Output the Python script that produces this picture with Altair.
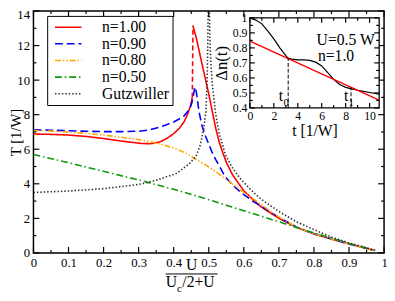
import altair as alt
import pandas as pd

W, H = 358, 247
FONT = "Liberation Serif"

# ---------------- main panel data ----------------
series_names = ["n=1.00", "n=0.90", "n=0.80", "n=0.50", "Gutzwiller"]
series_colors = ["#ff0000", "#0000ff", "#ffa500", "#0a9a0a", "#333333"]
series_dash = [[1, 0], [8, 4], [6, 2, 1.5, 2, 1.5, 2], [7, 3, 1.5, 3], [1.5, 2]]
series_width = [1.6, 1.6, 1.6, 1.6, 1.1]

red_left_v = [0, 0.05, 0.1, 0.15, 0.2, 0.24, 0.28, 0.31, 0.335, 0.36, 0.38, 0.4, 0.416, 0.43, 0.44, 0.448, 0.453]
red_left_T = [6.88, 6.86, 6.82, 6.74, 6.62, 6.5, 6.4, 6.33, 6.32, 6.42, 6.62, 6.9, 7.21, 7.6, 8.05, 8.5, 9.0]
red_jump_v = [0.453, 0.455]
red_jump_T = [9.0, 13.15]
red_right_v = [0.455, 0.465, 0.48, 0.49, 0.5, 0.51, 0.52, 0.53, 0.54, 0.55, 0.567, 0.584, 0.6, 0.625, 0.65,
               0.7, 0.75, 0.8, 0.85, 0.9, 0.95, 0.972]
red_right_T = [13.15, 12.4, 11.0, 10.1, 9.2, 8.2, 7.2, 6.4, 5.8, 5.25, 4.55, 4.05, 3.6, 3.1, 2.65,
               2.0, 1.48, 1.1, 0.8, 0.52, 0.26, 0.14]

blue_v = [0, 0.05, 0.1, 0.15, 0.2, 0.25, 0.3, 0.33, 0.36, 0.38, 0.4, 0.427, 0.445, 0.452, 0.457, 0.46,
          0.463, 0.466, 0.472, 0.48, 0.49, 0.5, 0.51, 0.52, 0.547, 0.567, 0.595, 0.625, 0.65, 0.7, 0.75,
          0.8, 0.85, 0.9, 0.95, 0.972]
blue_T = [7.12, 7.1, 7.07, 7.04, 7.02, 7.02, 7.04, 7.12, 7.28, 7.42, 7.58, 7.87, 8.3, 8.7, 9.2, 9.6,
          9.5, 9.1, 8.2, 7.4, 6.8, 6.3, 5.8, 5.4, 4.4, 3.95, 3.45, 3.0, 2.7, 2.05, 1.5,
          1.1, 0.8, 0.52, 0.26, 0.14]

orange_v = [0, 0.05, 0.1, 0.15, 0.2, 0.25, 0.3, 0.35, 0.4, 0.43, 0.455, 0.48, 0.5, 0.53, 0.556, 0.6,
            0.625, 0.65, 0.68, 0.7, 0.75, 0.8, 0.85, 0.9, 0.95, 0.972]
orange_T = [7.08, 7.06, 7.0, 6.92, 6.82, 6.7, 6.56, 6.36, 6.08, 5.82, 5.52, 5.22, 4.98, 4.56, 4.15, 3.5,
            3.15, 2.8, 2.35, 2.08, 1.5, 1.1, 0.8, 0.52, 0.26, 0.14]

green_v = [0, 0.1, 0.2, 0.3, 0.4, 0.464, 0.5, 0.556, 0.6, 0.65, 0.7, 0.743, 0.8, 0.835, 0.9, 0.95, 0.972]
green_T = [5.7, 5.22, 4.72, 4.22, 3.68, 3.3, 3.08, 2.72, 2.44, 2.12, 1.8, 1.52, 1.15, 0.95, 0.55, 0.27, 0.14]

gutz_left_v = [0, 0.1, 0.2, 0.3, 0.35, 0.408, 0.444, 0.464, 0.475, 0.485, 0.492, 0.495, 0.497, 0.4985]
gutz_left_T = [3.5, 3.58, 3.72, 3.96, 4.2, 4.6, 5.15, 5.6, 6.2, 7.1, 8.2, 9.8, 11.8, 14.5]
gutz_right_v = [0.5015, 0.503, 0.506, 0.51, 0.52, 0.53, 0.547, 0.565, 0.59, 0.62, 0.65, 0.7, 0.75, 0.8,
                0.85, 0.9, 0.95, 0.975]
gutz_right_T = [14.5, 12.5, 11.0, 9.8, 8.0, 6.9, 5.7, 5.0, 4.3, 3.65, 3.1, 2.4, 1.8, 1.35,
                0.92, 0.58, 0.3, 0.15]

main_x_major = [0, 0.1, 0.2, 0.3, 0.4, 0.5, 0.6, 0.7, 0.8, 0.9, 1.0]
main_x_minor = [0.05, 0.15, 0.25, 0.35, 0.45, 0.55, 0.65, 0.75, 0.85, 0.95]
main_y_major = [0, 2, 4, 6, 8, 10, 12, 14]
main_y_minor = [1, 3, 5, 7, 9, 11, 13]

title_num = ["U"]
title_den = ["U"]
title_sub = ["c"]
title_den_rest = ["/2+U"]

# ---------------- inset data ----------------
inset_t = [0, 0.5, 1, 1.5, 2, 2.5, 3, 3.2, 3.5, 4, 4.5, 5, 5.5, 6, 6.5, 7, 7.5, 8, 8.5, 9, 9.5, 10, 10.8]
inset_dn = [1.0, 0.985, 0.96, 0.912, 0.86, 0.8, 0.748, 0.732, 0.725, 0.72, 0.72, 0.717, 0.705, 0.68,
            0.635, 0.59, 0.556, 0.537, 0.527, 0.518, 0.51, 0.503, 0.492]
fit_t = [0, 10.8]
fit_dn = [0.845, 0.452]
mark_t = [3.2, 8.45]
mark_lo = [0.4, 0.4]
mark_hi = [0.732, 0.537]
inset_x_major = [0, 2, 4, 6, 8, 10]
inset_x_minor = [1, 3, 5, 7, 9]
inset_y_major = [0.4, 0.5, 0.6, 0.7, 0.8, 0.9, 1.0]
inset_y_minor = [0.45, 0.55, 0.65, 0.75, 0.85, 0.95]
inset_frame = {"x0": [0], "x1": [10.8], "y0": [0.4], "y1": [1.0]}
t_lbl_t = [2.78, 8.22]
t_lbl_y = [0.446, 0.446]
t_lbl_txt = ["t", "t"]
t_sub_t = [2.8, 8.24]
t_sub_y = [0.413, 0.413]
t_sub_txt = ["0", "1"]
info_t = [8.0, 7.2]
info_y = [0.817, 0.713]
info_txt = ["U=0.5 W", "n=1.0"]

# ---------------- build frames ----------------
rows = []
def add(name, seg, vs, Ts):
    for v, T in zip(vs, Ts):
        rows.append({"v": v, "T": T, "series": name, "seg": seg})

add("n=1.00", "r1", red_left_v, red_left_T)
add("n=1.00", "r2", red_right_v, red_right_T)
add("n=0.90", "b", blue_v, blue_T)
add("n=0.80", "o", orange_v, orange_T)
add("n=0.50", "g", green_v, green_T)
add("Gutzwiller", "z1", gutz_left_v, gutz_left_T)
add("Gutzwiller", "z2", gutz_right_v, gutz_right_T)
df_main = pd.DataFrame(rows)
df_jump = pd.DataFrame({"v": red_jump_v, "T": red_jump_T})

xs = alt.Scale(domain=[0, 1], nice=False, zero=False)
ys = alt.Scale(domain=[0, 14], nice=False, zero=False)
ixs = alt.Scale(domain=[0, 10.8], range=[221, 353], nice=False, zero=False)
iys = alt.Scale(domain=[0.4, 1.0], range=[99, 7], nice=False, zero=False)

legend = alt.Legend(
    orient="none", legendX=14, legendY=5, title=None,
    symbolType="M-1.8,0H1.8", symbolSize=225, symbolStrokeWidth=1.6, symbolOffset=10,
    labelFont=FONT, labelFontSize=16, labelOffset=26, padding=3, rowPadding=0,
    strokeColor="black", fillColor="white", labelLimit=300,
)

x_axis = alt.Axis(orient="bottom", values=main_x_major, format=".1~f", ticks=False, domain=False,
                  grid=False, labelFontSize=13, labelPadding=4, title=None, labelFlush=False,
                  labelOverlap=False)
y_axis = alt.Axis(orient="left", values=main_y_major, format="d", ticks=False, domain=False,
                  grid=False, labelFontSize=13, labelPadding=4, title="T [1/W]", titleFontSize=15,
                  titleAngle=270, titleX=-25, titleY=H / 2, titleBaseline="top", titleAlign="center",
                  labelOverlap=False,
                  labelOffset={"condition": {"test": "datum.value == 14", "value": 4}, "value": 0})

lines = alt.Chart(df_main).mark_line(clip=True).encode(
    x=alt.X("v:Q", scale=xs, axis=x_axis),
    y=alt.Y("T:Q", scale=ys, axis=y_axis),
    color=alt.Color("series:N", scale=alt.Scale(domain=series_names, range=series_colors), legend=legend),
    strokeDash=alt.StrokeDash("series:N", scale=alt.Scale(domain=series_names, range=series_dash), legend=legend),
    strokeWidth=alt.StrokeWidth("series:N", scale=alt.Scale(domain=series_names, range=series_width), legend=None),
    detail="seg:N",
)
jump = alt.Chart(df_jump).mark_line(color="#ff0000", strokeDash=[5, 3], strokeWidth=1.6, clip=True).encode(
    x=alt.X("v:Q", scale=xs, axis=None), y=alt.Y("T:Q", scale=ys, axis=None))


def xticks(vals, scale, y_from, y_to):
    return alt.Chart(pd.DataFrame({"p": vals})).mark_rule(color="black", strokeWidth=1.2).encode(
        x=alt.X("p:Q", scale=scale, axis=None), y=alt.value(y_from), y2=alt.value(y_to))


def yticks(vals, scale, x_from, x_to):
    return alt.Chart(pd.DataFrame({"p": vals})).mark_rule(color="black", strokeWidth=1.2).encode(
        y=alt.Y("p:Q", scale=scale, axis=None), x=alt.value(x_from), x2=alt.value(x_to))


one = pd.DataFrame({"a": [0]})
num = alt.Chart(pd.DataFrame({"s": title_num})).mark_text(font=FONT, fontSize=16, align="center", baseline="alphabetic").encode(
    text="s:N", x=alt.value(161.5), y=alt.value(264))
frac = alt.Chart(one).mark_rule(color="black", strokeWidth=1).encode(
    x=alt.value(135), x2=alt.value(188), y=alt.value(268.5))
den = alt.Chart(pd.DataFrame({"s": title_den})).mark_text(font=FONT, fontSize=16, align="left", baseline="alphabetic").encode(
    text="s:N", x=alt.value(135), y=alt.value(282))
sub = alt.Chart(pd.DataFrame({"s": title_sub})).mark_text(font=FONT, fontSize=11, align="left", baseline="alphabetic").encode(
    text="s:N", x=alt.value(146.5), y=alt.value(287))
den2 = alt.Chart(pd.DataFrame({"s": title_den_rest})).mark_text(font=FONT, fontSize=16, align="left", baseline="alphabetic").encode(
    text="s:N", x=alt.value(152), y=alt.value(282))

main = alt.layer(
    lines, jump,
    xticks(main_x_major, xs, H, H - 6), xticks(main_x_major, xs, 0, 6),
    xticks(main_x_minor, xs, H, H - 3), xticks(main_x_minor, xs, 0, 3),
    yticks(main_y_major, ys, 0, 6), yticks(main_y_major, ys, W, W - 6),
    yticks(main_y_minor, ys, 0, 3), yticks(main_y_minor, ys, W, W - 3),
    num, frac, den, sub, den2,
).resolve_axis(x="independent", y="independent")

# ---------------- inset ----------------
ix_axis = alt.Axis(orient="bottom", offset=99 - H, values=inset_x_major, format="d", ticks=False, domain=False,
                   grid=False, labelFontSize=12, labelPadding=3, labelFlush=False, labelOverlap=False,
                   title="t [1/W]", titleFontSize=16, titlePadding=1)
iy_axis = alt.Axis(orient="left", offset=-221, values=inset_y_major, format=".1~f", ticks=False, domain=False,
                   grid=False, labelFontSize=12, labelPadding=3, labelOverlap=False,
                   title="Δn(t)", titleFontSize=17, titlePadding=2)

frame = alt.Chart(pd.DataFrame(inset_frame)).mark_rect(fill="white", stroke="black", strokeWidth=1.3).encode(
    x=alt.X("x0:Q", scale=ixs, axis=ix_axis), x2="x1:Q",
    y=alt.Y("y0:Q", scale=iys, axis=iy_axis), y2="y1:Q")
curve = alt.Chart(pd.DataFrame({"t": inset_t, "d": inset_dn})).mark_line(color="black", strokeWidth=1.2).encode(
    x=alt.X("t:Q", scale=ixs, axis=None), y=alt.Y("d:Q", scale=iys, axis=None))
fit = alt.Chart(pd.DataFrame({"t": fit_t, "d": fit_dn})).mark_line(color="#ff0000", strokeWidth=1.4).encode(
    x=alt.X("t:Q", scale=ixs, axis=None), y=alt.Y("d:Q", scale=iys, axis=None))
marks = alt.Chart(pd.DataFrame({"t": mark_t, "lo": mark_lo, "hi": mark_hi})).mark_rule(
    color="black", strokeDash=[4, 2], strokeWidth=1).encode(
    x=alt.X("t:Q", scale=ixs, axis=None), y=alt.Y("lo:Q", scale=iys, axis=None), y2="hi:Q")
tl = alt.Chart(pd.DataFrame({"t": t_lbl_t, "y": t_lbl_y, "s": t_lbl_txt})).mark_text(
    font=FONT, fontSize=16, align="right", baseline="alphabetic").encode(
    x=alt.X("t:Q", scale=ixs, axis=None), y=alt.Y("y:Q", scale=iys, axis=None), text="s:N")
ts = alt.Chart(pd.DataFrame({"t": t_sub_t, "y": t_sub_y, "s": t_sub_txt})).mark_text(
    font=FONT, fontSize=11, align="left", baseline="alphabetic").encode(
    x=alt.X("t:Q", scale=ixs, axis=None), y=alt.Y("y:Q", scale=iys, axis=None), text="s:N")
info = alt.Chart(pd.DataFrame({"t": info_t, "y": info_y, "s": info_txt})).mark_text(
    font=FONT, fontSize=16, align="center", baseline="alphabetic").encode(
    x=alt.X("t:Q", scale=ixs, axis=None), y=alt.Y("y:Q", scale=iys, axis=None), text="s:N")

inset = alt.layer(
    frame, curve, fit, marks, tl, ts, info,
    xticks(inset_x_major, ixs, 99, 94), xticks(inset_x_major, ixs, 7, 12),
    xticks(inset_x_minor, ixs, 99, 96), xticks(inset_x_minor, ixs, 7, 10),
    yticks(inset_y_major, iys, 221, 226), yticks(inset_y_major, iys, 353, 348),
    yticks(inset_y_minor, iys, 221, 224), yticks(inset_y_minor, iys, 353, 350),
).resolve_axis(x="independent", y="independent")

chart = alt.layer(main, inset).resolve_scale(x="independent", y="independent").properties(
    width=W, height=H,
    autosize=alt.AutoSizeParams(type="none"),
    padding={"left": 26, "top": 0, "right": 3, "bottom": 44},
).configure_view(stroke="black", strokeWidth=1.5).configure_axis(
    labelFont=FONT, titleFont=FONT, labelColor="black", titleColor="black", titleFontWeight="normal"
).configure_text(font=FONT, color="black")

chart.save("out.html", embed_options={"renderer": "svg", "actions": False})
